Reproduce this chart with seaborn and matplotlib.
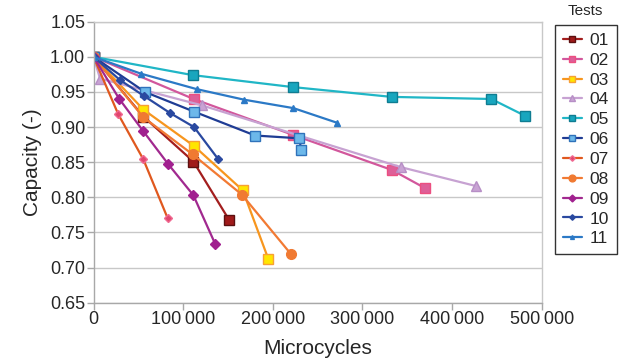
import matplotlib
matplotlib.use("Agg")
import matplotlib.pyplot as plt
import matplotlib.ticker as mticker
import seaborn as sns
import pandas as pd

# Capacity fade per test (microcycles, relative capacity)
x_01 = [0, 55600, 111400, 151200]
y_01 = [1.000, 0.915, 0.851, 0.768]
x_02 = [0, 111700, 222300, 332800, 370000]
y_02 = [1.000, 0.940, 0.889, 0.839, 0.813]
x_03 = [0, 55600, 112200, 166500, 195100]
y_03 = [1.000, 0.925, 0.873, 0.810, 0.712]
x_04 = [0, 7300, 120800, 342800, 426900]
y_04 = [1.000, 0.969, 0.931, 0.843, 0.816]
x_05 = [0, 110600, 222000, 332500, 443800, 481500]
y_05 = [1.000, 0.974, 0.957, 0.943, 0.940, 0.916]
x_06 = [0, 57400, 112200, 180300, 229700, 231600]
y_06 = [1.000, 0.950, 0.922, 0.888, 0.884, 0.867]
x_07 = [0, 27700, 55600, 82800]
y_07 = [1.000, 0.918, 0.854, 0.770]
x_08 = [0, 55600, 110700, 165400, 220400]
y_08 = [1.000, 0.914, 0.861, 0.804, 0.719]
x_09 = [0, 28800, 55600, 83500, 111400, 135600]
y_09 = [1.000, 0.940, 0.894, 0.847, 0.803, 0.734]
x_10 = [0, 29500, 56700, 85400, 112200, 139300]
y_10 = [1.000, 0.967, 0.944, 0.920, 0.900, 0.854]
x_11 = [0, 53000, 115200, 168000, 223000, 272100]
y_11 = [1.000, 0.976, 0.954, 0.939, 0.927, 0.906]

tests = ["01", "02", "03", "04", "05", "06", "07", "08", "09", "10", "11"]
xs = [x_01, x_02, x_03, x_04, x_05, x_06, x_07, x_08, x_09, x_10, x_11]
ys = [y_01, y_02, y_03, y_04, y_05, y_06, y_07, y_08, y_09, y_10, y_11]

# line colour, marker, marker face, marker edge, marker size
styles = {
    "01": ("#a31e1e", "s", "#a01a1a", "#5c1010", 7),
    "02": ("#d2579c", "s", "#de5f98", "#ec4f80", 7),
    "03": ("#f7961e", "s", "#ffe600", "#f7a035", 7),
    "04": ("#c7a2d2", "^", "#c9a3d4", "#b78fc6", 7),
    "05": ("#20b6c6", "s", "#18a6be", "#0f7d92", 7),
    "06": ("#1f3c94", "s", "#6cb8ea", "#2f72ba", 7),
    "07": ("#e0581e", "D", "#e2466e", "#f06a92", 4),
    "08": ("#f27a33", "o", "#f07a32", "#f07a32", 7),
    "09": ("#a1298f", "D", "#a1208f", "#a1208f", 5),
    "10": ("#2a49a0", "D", "#2a49a0", "#2a49a0", 4),
    "11": ("#2b79c6", "^", "#2b79c6", "#2b79c6", 4),
}

sns.set_theme(style="white")
plt.rcParams["font.family"] = ["Liberation Sans", "DejaVu Sans"]

fig = plt.figure(figsize=(6.21, 3.62), dpi=100)
ax = fig.add_axes([0.1506, 0.1638, 0.7217, 0.7762])

for name, xv, yv in zip(tests, xs, ys):
    df = pd.DataFrame({"Microcycles": xv, "Capacity": yv})
    lc, mk, mf, me, ms = styles[name]
    sns.lineplot(data=df, x="Microcycles", y="Capacity", ax=ax, sort=False,
                 color=lc, linewidth=1.6, marker=mk, markersize=ms,
                 markerfacecolor=mf, markeredgecolor=me, markeredgewidth=1.0,
                 label=name, legend=False)

ax.set_xlim(0, 500000)
ax.set_ylim(0.65, 1.05)
ax.yaxis.set_major_locator(mticker.MultipleLocator(0.05))
ax.yaxis.set_major_formatter(mticker.FormatStrFormatter("%.2f"))
ax.xaxis.set_major_locator(mticker.MultipleLocator(100000))
ax.xaxis.set_major_formatter(mticker.FuncFormatter(
    lambda v, p: "0" if v == 0 else f"{int(v):,}".replace(",", "\u2009")))

ax.grid(axis="y", color="#c8c8c8", linewidth=1.0)
ax.grid(axis="x", visible=False)
for s in ax.spines.values():
    s.set_color("#c8c8c8")
    s.set_linewidth(1.0)
ax.spines["left"].set_color("#a8a8a8")
ax.spines["bottom"].set_color("#a8a8a8")
ax.tick_params(axis="both", which="major", direction="out", length=5,
               width=1.0, color="#a8a8a8", labelsize=13, pad=1,
               left=True, bottom=True)
ax.set_xlabel("Microcycles", fontsize=15, labelpad=8)
ax.set_ylabel("Capacity (-)", fontsize=15, labelpad=6)

handles, labels = ax.get_legend_handles_labels()
leg = fig.legend(handles, labels, loc="upper left",
                 bbox_to_anchor=(555 / 621, 1 - 25 / 362),
                 frameon=True, fancybox=False, fontsize=12.5,
                 handlelength=1.1, handletextpad=0.45, labelspacing=0.27,
                 borderpad=0.45, borderaxespad=0, markerscale=0.7)
leg.get_frame().set_edgecolor("black")
leg.get_frame().set_linewidth(1.0)
fig.text(585 / 621, 1 - 11 / 362, "Tests", ha="center", va="center", fontsize=11)

fig.savefig("out.png", dpi=100)
